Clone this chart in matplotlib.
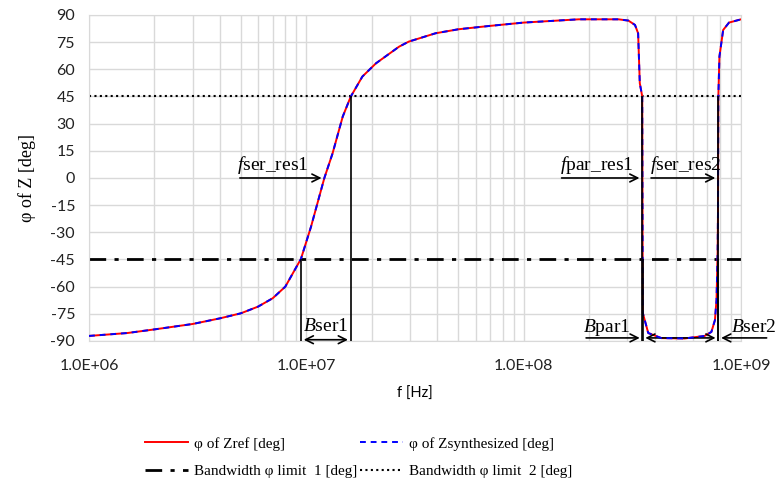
import matplotlib

matplotlib.use("Agg")
import matplotlib.pyplot as plt
from matplotlib.ticker import FixedLocator, FuncFormatter, LogLocator, NullFormatter
import numpy as np

# phase of Z (frequency in Hz, phase in deg)
freq = [1.0e6, 1.5e6, 2.0e6, 3.0e6, 4.0e6, 5.0e6, 6.0e6, 7.0e6, 8.0e6, 9.44e6,
        1.05e7, 1.21e7, 1.32e7, 1.47e7, 1.6e7, 1.81e7, 2.09e7, 2.67e7, 2.96e7, 3.93e7,
        5.0e7, 6.9e7, 1.0e8, 1.79e8, 2.73e8, 3.03e8, 3.25e8, 3.36e8, 3.42e8, 3.51e8,
        3.53e8, 3.74e8, 4.3e8, 5.5e8, 6.8e8, 7.3e8, 7.58e8, 7.71e8, 7.8e8, 7.83e8,
        7.86e8, 7.95e8, 8.27e8, 8.8e8, 1.0e9]
phase_ref = [-87.2, -85.6, -83.6, -80.6, -77.5, -74.7, -71.0, -66.4, -60.0, -44.7,
             -27.0, 0.0, 13.6, 33.9, 44.9, 56.0, 63.3, 72.5, 75.3, 79.9,
             82.1, 83.9, 85.8, 87.6, 87.6, 86.9, 84.5, 79.9, 52.3, 45.0,
             -74.5, -85.6, -88.4, -88.6, -87.2, -85.0, -78.5, -67.3, -41.0, -19.0,
             45.0, 67.0, 81.7, 85.8, 87.6]
phase_syn = phase_ref  # synthesized curve lies on top of the reference

limit1 = -45
limit2 = 45

# band edges (phase crossing -45 / +45) and resonance frequencies
bw_ser1 = [9.44e6, 1.6e7]
bw_par1 = [3.51e8, 3.52e8]
bw_ser2 = [7.81e8, 7.86e8]
f_ser_res1 = 1.21e7
f_par_res1 = 3.51e8
f_ser_res2 = 7.84e8

yticks = list(range(-90, 91, 15))
xticks = [1e6, 1e7, 1e8, 1e9]

plt.rcParams["mathtext.fontset"] = "custom"
plt.rcParams["mathtext.it"] = "Liberation Serif:italic"
plt.rcParams["mathtext.rm"] = "Liberation Serif"
plt.rcParams["axes.unicode_minus"] = False

fig = plt.figure(figsize=(7.76, 4.83), dpi=100)
ax = fig.add_axes([0.1147, 0.294, 0.8403, 0.675])

ax.plot(freq, phase_ref, color="red", lw=1.4, label="φ of Zref [deg]", zorder=3)
ax.plot(freq, phase_syn, color="blue", lw=1.4, ls=(0, (3, 2.5)), label="φ of Zsynthesized [deg]", zorder=4)
ax.axhline(limit1, color="black", lw=2.0, ls=(0, (6, 3, 1.5, 3)), label="Bandwidth φ limit  1 [deg]", zorder=2)
ax.axhline(limit2, color="black", lw=1.5, ls=(0, (1, 1.6)), label="Bandwidth φ limit  2 [deg]", zorder=2)

# band limit verticals
for lo, hi in (bw_ser1, bw_par1, bw_ser2):
    ax.vlines(lo, -90, limit1 if lo != f_par_res1 else limit2, color="black", lw=1.2, zorder=5)
    ax.vlines(hi, -90, limit2 if hi != bw_par1[1] else limit1, color="black", lw=1.2, zorder=5)

ax.set_xscale("log")
ax.set_xlim(1e6, 1e9)
ax.set_ylim(-90, 90)
ax.xaxis.set_major_locator(FixedLocator(xticks))
ax.xaxis.set_minor_locator(LogLocator(base=10, subs=np.arange(2, 10)))
ax.xaxis.set_minor_formatter(NullFormatter())
ax.xaxis.set_major_formatter(FuncFormatter(lambda v, p: "%.1E" % v))
ax.set_yticks(yticks)
ax.grid(True, which="both", color="#d9d9d9", lw=1.0, zorder=0)
ax.set_axisbelow(True)
for s in ax.spines.values():
    s.set_color("#d9d9d9")
ax.tick_params(axis="both", which="both", length=0, labelsize=11.5, colors="#222222")
ax.tick_params(axis="x", pad=13)
ax.tick_params(axis="y", pad=10)
for lab in ax.get_xticklabels() + ax.get_yticklabels():
    lab.set_fontfamily("Lato")

ax.set_xlabel("f [Hz]", fontsize=10.5, family="Lato", labelpad=10)
ax.set_ylabel("φ of Z [deg]", fontsize=13, family="Liberation Serif", labelpad=10)

tk = dict(fontsize=14, family="Liberation Serif", zorder=6, va="baseline")
arr = dict(arrowstyle="->", color="black", lw=1.2, mutation_scale=14)
arr2 = dict(arrowstyle="<->", color="black", lw=1.2, mutation_scale=14)

# resonance arrows
ax.annotate("", xy=(f_ser_res1, 0), xytext=(4.8e6, 0), arrowprops=arr)
ax.text(4.8e6, 4.5, r"$f$ser_res1", ha="left", **tk)
ax.annotate("", xy=(f_par_res1, 0), xytext=(1.45e8, 0), arrowprops=arr)
ax.text(1.47e8, 4.5, r"$f$par_res1", ha="left", **tk)
ax.annotate("", xy=(f_ser_res2, 0), xytext=(3.74e8, 0), arrowprops=arr)
ax.text(3.8e8, 4.5, r"$f$ser_res2", ha="left", **tk)

# bandwidth arrows
ax.annotate("", xy=(bw_ser1[0], -89.3), xytext=(bw_ser1[1], -89.3), arrowprops=arr2)
ax.text(np.sqrt(bw_ser1[0] * bw_ser1[1]), -84.5, r"$B$ser1", ha="center", **tk)
ax.annotate("", xy=(bw_par1[1], -88.3), xytext=(1.88e8, -88.3), arrowprops=arr)
ax.text(1.88e8, -84.8, r"$B$par1", ha="left", **tk)
ax.annotate("", xy=(bw_par1[1], -88.3), xytext=(bw_ser2[1], -88.3), arrowprops=arr2)
ax.annotate("", xy=(bw_ser2[1], -88.3), xytext=(1.35e9, -88.3), arrowprops=arr,
            annotation_clip=False)
ax.text(9.0e8, -84.8, r"$B$ser2", ha="left", clip_on=False, **tk)

h, l = ax.get_legend_handles_labels()
order = [0, 2, 1, 3]
fig.legend([h[i] for i in order], [l[i] for i in order], ncol=2, loc="center",
           bbox_to_anchor=(0.462, 0.053), frameon=False, handlelength=2.8,
           columnspacing=0.2, handletextpad=0.4, labelspacing=0.9,
           prop={"family": "Liberation Serif", "size": 11})

fig.savefig("out.png", dpi=100)
